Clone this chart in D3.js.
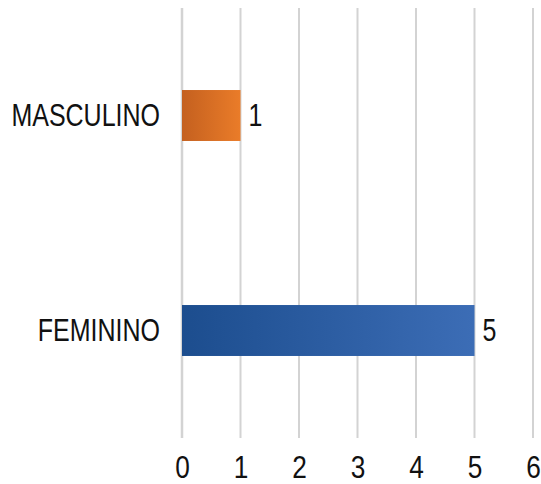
<!DOCTYPE html>
<html>
<head>
<meta charset="utf-8">
<script src="https://cdn.jsdelivr.net/npm/d3@7"></script>
<style>
  html, body { margin: 0; padding: 0; background: #fff; }
  svg { display: block; }
  text { font-family: "Liberation Sans", Arial, sans-serif; fill: #111; }
</style>
</head>
<body>
<svg id="chart" width="541" height="484"></svg>
<script>
// Respondents by sex
const categories = ["MASCULINO", "FEMININO"];
const values = [1, 5];
const tickValues = [0, 1, 2, 3, 4, 5, 6];
const barColors = [["#c4601f", "#ea7c29"], ["#1c4d8e", "#3c6db6"]];

const svg = d3.select("#chart");
const narrow = 0.82; // condensed lettering

const x = d3.scaleLinear().domain([0, 6]).range([182, 533]);
const y = d3.scaleBand().domain(categories).range([8, 438])
  .paddingInner(0.763).paddingOuter(0.3815);

// horizontal gradients for the bars
const defs = svg.append("defs");
categories.forEach((c, i) => {
  const g = defs.append("linearGradient").attr("id", "grad" + i)
    .attr("x1", "0%").attr("x2", "100%").attr("y1", "0%").attr("y2", "0%");
  g.append("stop").attr("offset", "0%").attr("stop-color", barColors[i][0]);
  g.append("stop").attr("offset", "100%").attr("stop-color", barColors[i][1]);
});

// vertical gridlines
svg.append("g").selectAll("line").data(tickValues).join("line")
  .attr("x1", d => x(d)).attr("x2", d => x(d))
  .attr("y1", 8).attr("y2", 438)
  .attr("stroke", "#d3d3d3").attr("stroke-width", d => d === 0 ? 2.5 : 2);

// x axis labels
const xAxis = d3.axisBottom(x).tickValues(tickValues).tickSize(0).tickPadding(0).tickFormat(d3.format("d"));
const ax = svg.append("g").attr("transform", "translate(0,478)").call(xAxis);
ax.select(".domain").remove();
ax.selectAll("text")
  .attr("font-size", 32).attr("fill", "#111")
  .attr("font-family", "\"Liberation Sans\", Arial, sans-serif")
  .attr("y", 0).attr("dy", 0)
  .attr("transform", `scale(${narrow},1)`);

// bars
svg.append("g").selectAll("rect").data(categories).join("rect")
  .attr("x", x(0))
  .attr("y", d => y(d))
  .attr("width", (d, i) => x(values[i]) - x(0))
  .attr("height", y.bandwidth())
  .attr("fill", (d, i) => `url(#grad${i})`);

// category labels
svg.append("g").selectAll("text").data(categories).join("text")
  .attr("transform", d => `translate(160,${y(d) + y.bandwidth() / 2}) scale(${narrow},1)`)
  .attr("dy", "0.36em")
  .attr("text-anchor", "end")
  .attr("font-size", 30.5)
  .text(d => d);

// value labels
svg.append("g").selectAll("text").data(categories).join("text")
  .attr("transform", (d, i) => `translate(${x(values[i]) + 8},${y(d) + y.bandwidth() / 2}) scale(${narrow},1)`)
  .attr("dy", "0.36em")
  .attr("font-size", 30.5)
  .text((d, i) => values[i]);
</script>
</body>
</html>
